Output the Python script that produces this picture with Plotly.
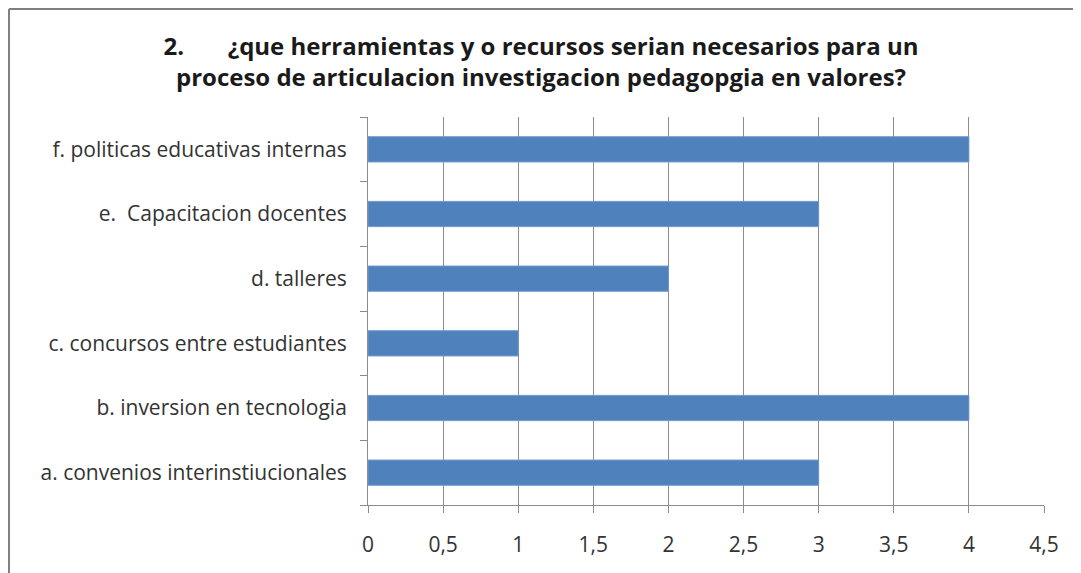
import plotly.graph_objects as go

categories = [
    "a. convenios interinstiucionales",
    "b. inversion en tecnologia",
    "c. concursos entre estudiantes",
    "d. talleres",
    "e.  Capacitacion docentes",
    "f. politicas educativas internas",
]
values = [3, 4, 1, 2, 3, 4]
x_tick_vals = [0, 0.5, 1, 1.5, 2, 2.5, 3, 3.5, 4, 4.5]
x_tick_text = ["0", "0,5", "1", "1,5", "2", "2,5", "3", "3,5", "4", "4,5"]

title_text = ("<b>2.\u00a0\u00a0\u00a0\u00a0\u00a0\u00a0 ¿que herramientas y o recursos serian necesarios para un<br>"
              "proceso de articulacion investigacion pedagopgia en valores?</b>")

W, H = 1081, 573
# page body offsets the figure by ~8px; coordinates below are compensated
L, R, T, B = 360, 45, 109, 76
pw, ph = W - L - R, H - T - B

fig = go.Figure(go.Bar(
    y=categories, x=values, orientation="h",
    marker=dict(color="#4F81BD", line=dict(color="#6F99CC", width=1)),
    width=0.39,
))

grid = "#8C8C8C"
fig.update_layout(
    width=W, height=H,
    margin=dict(l=L, r=R, t=T, b=B),
    paper_bgcolor="white", plot_bgcolor="white",
    font=dict(family="Open Sans, Carlito, Calibri, sans-serif", color="#333333", size=21),
    title=dict(text=title_text, x=533 / W, xref="container", xanchor="center",
               y=1 - 47 / H, yref="container", yanchor="middle",
               font=dict(size=24, color="#1a1a1a")),
    showlegend=False,
    bargap=0.6,
)
fig.update_xaxes(
    range=[0, 4.5], tickvals=x_tick_vals, ticktext=x_tick_text,
    showgrid=True, gridcolor=grid, gridwidth=1,
    showline=True, linecolor=grid, linewidth=1,
    ticks="outside", ticklen=7, tickcolor=grid,
    ticklabelstandoff=14, zeroline=False,
)
fig.update_yaxes(
    type="category", tickson="boundaries",
    showgrid=False, showline=True, linecolor=grid, linewidth=1,
    ticks="outside", ticklen=7, tickcolor=grid,
    ticklabelstandoff=16,
)

# frame of the original picture (top and left edges)
xl = (1 - L) / pw
yt = (H - B - 1) / ph
fig.add_shape(type="line", xref="paper", yref="paper", x0=xl, x1=(W - L) / pw,
              y0=yt, y1=yt, line=dict(color="#808080", width=2))
fig.add_shape(type="line", xref="paper", yref="paper", x0=xl, x1=xl,
              y0=yt, y1=-(B) / ph, line=dict(color="#808080", width=2))

fig.write_html("out.html")
